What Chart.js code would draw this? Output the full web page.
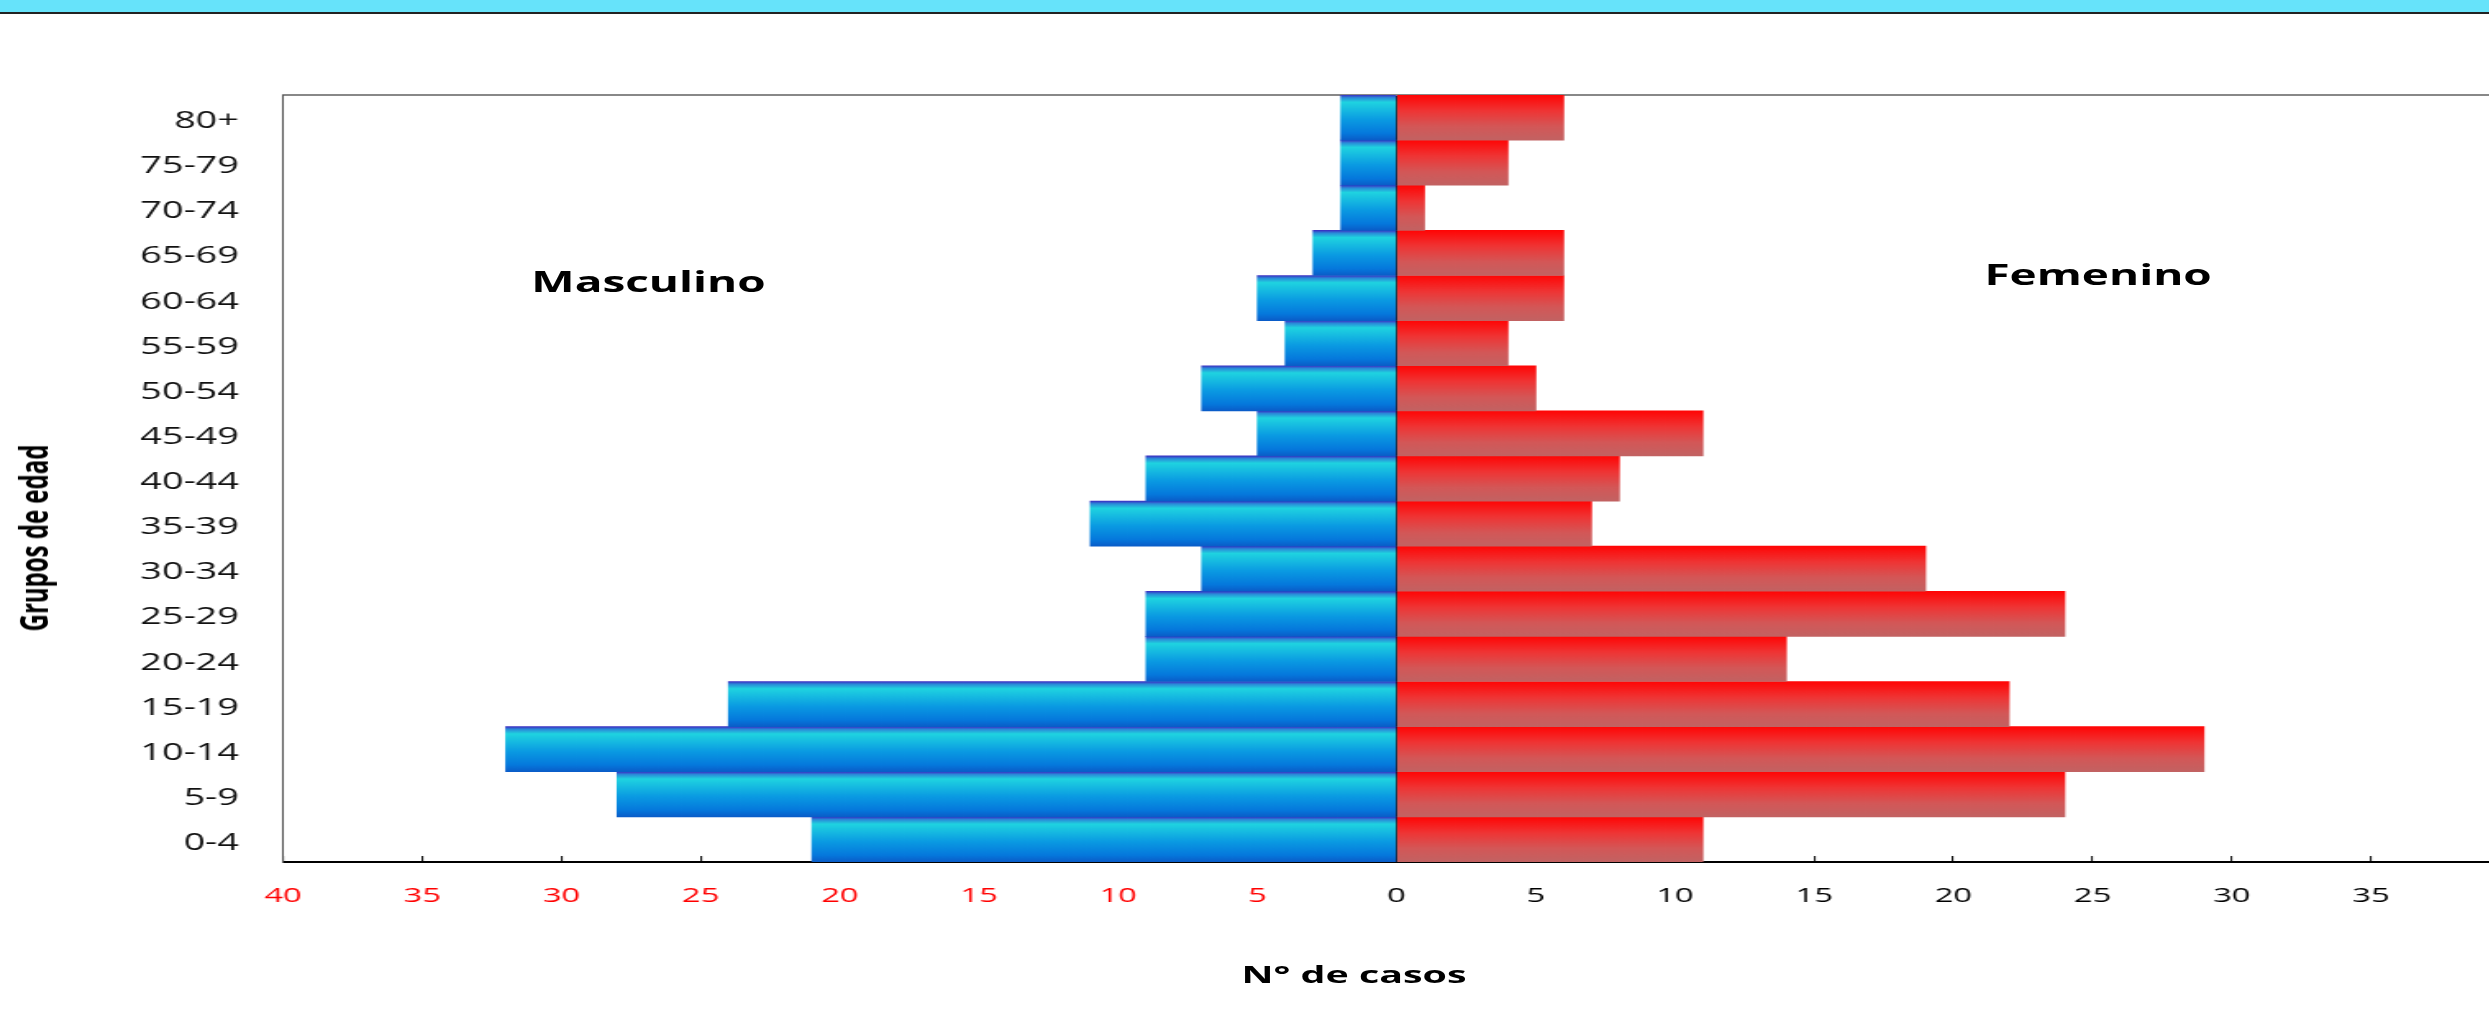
<!DOCTYPE html>
<html>
<head>
<meta charset="utf-8">
<script src="https://cdn.jsdelivr.net/npm/chart.js@4/dist/chart.umd.min.js"></script>
<style>
  html, body { margin: 0; padding: 0; width: 2489px; height: 1013px; overflow: hidden; background: #fff; }
  #band { position: absolute; left: 0; top: 0; width: 2489px; height: 12px; background: #66e3fa; border-bottom: 2px solid #222; z-index: 5; }
  #wrap { position: absolute; left: 0; top: 0; width: 1570px; height: 1013px; transform: scaleX(1.64); transform-origin: 0 0; }
  .lbl { position: absolute; font-family: 'Open Sans', sans-serif; font-weight: bold; line-height: 1; color: #000; white-space: nowrap; }
</style>
</head>
<body>
<div id="band"></div>
<div id="wrap">
  <canvas id="pyramid" width="1570" height="1013"></canvas>
  <div class="lbl" style="left:324px; top:267px; font-size:28px;">Masculino</div>
  <div class="lbl" style="left:1210px; top:260px; font-size:28px;">Femenino</div>
  <div class="lbl" style="left:757px; top:962px; font-size:24px;">N° de casos</div>
  <div class="lbl" style="left:20px; top:538px; font-size:24px; transform: translate(-50%, -50%) rotate(-90deg);">Grupos de edad</div>
</div>
<script>
const ageGroups = ['0-4', '5-9', '10-14', '15-19', '20-24', '25-29', '30-34', '35-39', '40-44',
  '45-49', '50-54', '55-59', '60-64', '65-69', '70-74', '75-79', '80+'];
const masculino = [21, 28, 32, 24, 9, 9, 7, 11, 9, 5, 7, 4, 5, 3, 2, 2, 2];
const femenino = [11, 24, 29, 22, 14, 24, 19, 7, 8, 11, 5, 4, 6, 6, 1, 4, 6];

const blueStops = [[0, '#3a30c2'], [0.06, '#2a8ad8'], [0.16, '#1fd3e0'], [0.55, '#0a9ae2'], [0.85, '#0578dc'], [1, '#0a5cc8']];
const redStops = [[0, '#ff0505'], [0.35, '#ef3434'], [0.7, '#d35757'], [1, '#c26262']];

// vertical gradient for each bar, taken from the category band on the y scale
function barGradient(ctx, stops) {
  const chart = ctx.chart;
  const y = chart.scales && chart.scales.y;
  if (!y || ctx.dataIndex === undefined || !chart.chartArea) return stops[2][1];
  const c = y.getPixelForValue(ctx.dataIndex);
  const half = Math.abs(y.getPixelForValue(1) - y.getPixelForValue(0)) / 2;
  const g = chart.ctx.createLinearGradient(0, c - half, 0, c + half);
  stops.forEach(s => g.addColorStop(s[0], s[1]));
  return g;
}

new Chart(document.getElementById('pyramid').getContext('2d'), {
  type: 'bar',
  data: {
    labels: ageGroups,
    datasets: [
      {
        label: 'Masculino',
        data: masculino.map(v => -v),
        backgroundColor: ctx => barGradient(ctx, blueStops),
        borderWidth: 0,
        barPercentage: 1,
        categoryPercentage: 1
      },
      {
        label: 'Femenino',
        data: femenino,
        backgroundColor: ctx => barGradient(ctx, redStops),
        borderWidth: 0,
        barPercentage: 1,
        categoryPercentage: 1
      }
    ]
  },
  options: {
    indexAxis: 'y',
    responsive: false,
    animation: false,
    layout: { padding: { top: 95, right: 12, left: 0, bottom: 0 } },
    plugins: { legend: { display: false }, tooltip: { enabled: false } },
    scales: {
      x: {
        type: 'linear',
        position: 'bottom',
        stacked: true,
        min: -40,
        max: 40,
        z: 1,
        afterFit: s => { s.height = 151; },
        ticks: {
          stepSize: 5,
          padding: 28,
          font: { family: 'Open Sans', size: 20 },
          color: c => (c.tick && c.tick.value < 0 ? '#ff0000' : '#000'),
          callback: v => Math.abs(v)
        },
        grid: {
          drawOnChartArea: true,
          drawTicks: true,
          tickLength: -6,
          tickColor: '#000',
          tickWidth: 1,
          color: c => (c.tick && c.tick.value === 0 ? '#000' : 'rgba(0,0,0,0)'),
          lineWidth: 1.2
        },
        border: { color: '#000', width: 2 }
      },
      x2: {
        type: 'linear',
        position: 'top',
        min: -40,
        max: 40,
        ticks: { display: false },
        grid: { drawOnChartArea: false, drawTicks: false },
        border: { color: '#888', width: 2 }
      },
      y: {
        stacked: true,
        reverse: true,
        afterFit: s => { s.width = 172.6; },
        ticks: {
          padding: 27,
          labelOffset: 4,
          font: { family: 'Open Sans', size: 23 },
          color: '#111'
        },
        grid: { display: false, drawTicks: false },
        border: { color: '#555', width: 1 }
      }
    }
  }
});
</script>
</body>
</html>
